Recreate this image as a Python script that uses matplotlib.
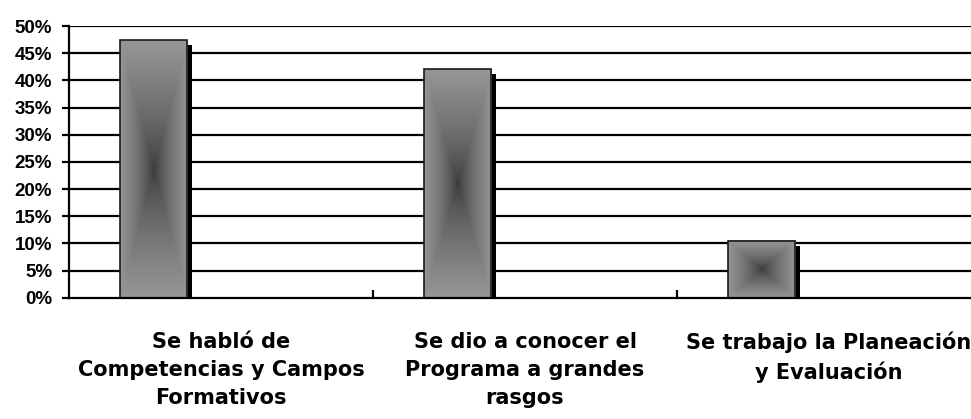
import numpy as np
import matplotlib
matplotlib.use("Agg")
import matplotlib.pyplot as plt
from matplotlib.colors import LinearSegmentedColormap
from matplotlib.patches import Rectangle
from matplotlib.ticker import PercentFormatter

# Chart data
categories = [
    "Se habló de\nCompetencias y Campos\nFormativos",
    "Se dio a conocer el\nPrograma a grandes\nrasgos",
    "Se trabajo la Planeación\ny Evaluación",
]
values = [47.4, 42.1, 10.5]
y_ticks = [0, 5, 10, 15, 20, 25, 30, 35, 40, 45, 50]

W, H, DPI = 971, 419, 100
fig = plt.figure(figsize=(W / DPI, H / DPI), dpi=DPI)
# plot area: left edge at 69 px, each category 304 px wide (right end runs past the figure)
ax = fig.add_axes([69 / W, 121.3 / H, 3 * 304 / W, 271.7 / H])

n = len(categories)

# Rectangular "from centre" gradient: dark centre, grey edges
cmap = LinearSegmentedColormap.from_list("g", ["#383838", "#969696"])
res = 240
u = np.linspace(-1, 1, res)
U, V = np.meshgrid(u, u)
T = np.maximum(np.abs(U), np.abs(V)) ** 0.7

# clustered layout: 3 slots per category, gap width 150% of a bar
bar_w = 1 / 4.5
offset = -bar_w
sx = 5 / 304           # shadow shift in category units (5 px)
sy = 5 / (271.7 / 50)  # shadow shift in percent units (5 px)

for i, v in enumerate(values):
    x0 = i + offset - bar_w / 2
    ax.add_patch(Rectangle((x0 + sx, 0), bar_w, v - sy, facecolor="black",
                           edgecolor="none", zorder=3))
    ax.imshow(T, cmap=cmap, vmin=0, vmax=1, extent=(x0, x0 + bar_w, 0, v),
              aspect="auto", interpolation="bilinear", zorder=4, origin="lower")
    ax.add_patch(Rectangle((x0, 0), bar_w, v, facecolor="none",
                           edgecolor="#1a1a1a", linewidth=1.2, zorder=5))

ax.set_xlim(-0.5, n - 0.5)
ax.set_ylim(0, 50)

# horizontal grid every 5 %
ax.set_yticks(y_ticks)
ax.yaxis.set_major_formatter(PercentFormatter(decimals=0))
for t in y_ticks[1:]:
    ax.axhline(t, color="black", linewidth=1.6, zorder=1)

for side in ("top", "right"):
    ax.spines[side].set_visible(False)
for side in ("left", "bottom"):
    ax.spines[side].set_linewidth(1.6)
    ax.spines[side].set_color("black")
    ax.spines[side].set_zorder(6)

ax.tick_params(axis="y", direction="out", length=5, width=1.6, pad=7,
               labelsize=13.5)
for lbl in ax.get_yticklabels():
    lbl.set_fontfamily("Liberation Sans")
    lbl.set_fontweight("bold")

# category labels centred under each group, boundary ticks pointing inward
ax.set_xticks(range(n))
ax.set_xticklabels(categories, fontsize=15, fontweight="bold",
                   family="DejaVu Sans", linespacing=1.5)
ax.tick_params(axis="x", which="major", length=0, pad=24.5)
ax.set_xticks([0.5, 1.5, 2.5], minor=True)
ax.tick_params(axis="x", which="minor", direction="in", length=6, width=1.6)

fig.savefig("out.png", dpi=DPI)
